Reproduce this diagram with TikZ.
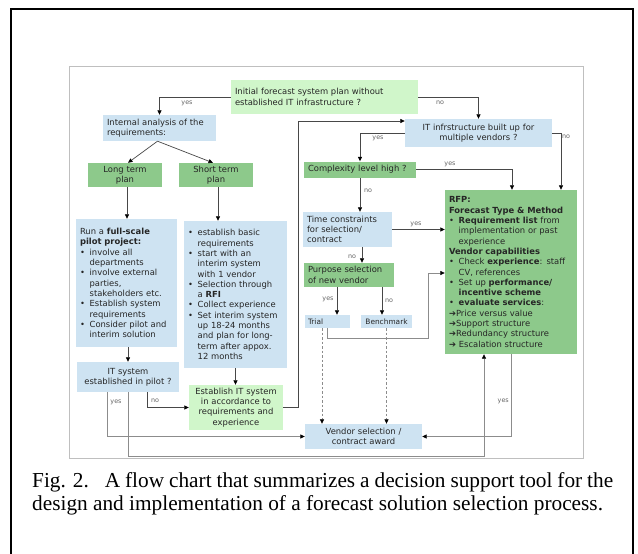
\documentclass[tikz,border=0pt]{standalone}
\usepackage{fontspec}
\setmainfont{Liberation Serif}
\newfontfamily\vf{DejaVu Sans}
\usetikzlibrary{arrows.meta}
\definecolor{lblue}{RGB}{206,227,242}
\definecolor{mgreen}{RGB}{141,201,139}
\definecolor{lgreen}{RGB}{208,246,202}
\newcommand{\bu}{\makebox[1.15em][l]{\textbullet}}
\newcommand{\ii}{\makebox[1.15em]{}}
\newcommand{\rar}{\textbf{➔}}
\begin{document}
\begin{tikzpicture}[x=1pt,y=-1pt,
  bx/.style={inner xsep=4pt, inner ysep=0pt, font=\vf\fontsize{8.4}{10.3}\selectfont, text=black!85},
  sbx/.style={inner xsep=3pt, inner ysep=0pt, font=\vf\fontsize{7.4}{9}\selectfont, text=black!85},
  lbl/.style={font=\vf\fontsize{6.4}{7}\selectfont, text=black!60, inner sep=0pt},
  ln/.style={draw=black!72, line width=0.7pt, -{Triangle[length=4.5pt,width=4pt,color=black]}},
  lnl/.style={draw=black!45, line width=0.7pt, -{Triangle[length=4.5pt,width=4pt,color=black]}},
  lnd/.style={draw=black!45, line width=0.7pt, dash pattern=on 2.5pt off 2pt, -{Triangle[length=4.5pt,width=4pt,color=black]}},
  captxt/.style={font=\fontsize{21.3}{23}\selectfont, inner sep=0pt, anchor=base west}
]
\useasboundingbox (0,0) rectangle (638,554);
\fill[white] (0,0) rectangle (638,554);
% frames
\draw[line width=1.6pt] (11,570) -- (11,9) -- (633,9) -- (633,570);
\draw[black!25, line width=0.8pt] (69,66) rectangle (583,458);

% boxes
\node[bx, fill=lgreen, minimum width=187pt, minimum height=34pt, text width=179pt, align=left] (init) at (324.5,97)
  {Initial forecast system plan without\\established IT infrastructure ?};
\node[bx, fill=lblue, minimum width=113pt, minimum height=26pt, text width=105pt, align=left] (ana) at (159.5,128)
  {Internal analysis of the\\requirements:};
\node[bx, fill=mgreen, minimum width=74pt, minimum height=24pt, text width=66pt, align=center] (long) at (125,175)
  {Long term\\plan};
\node[bx, fill=mgreen, minimum width=74pt, minimum height=24pt, text width=66pt, align=center] (short) at (216,175)
  {Short term\\plan};
\node[bx, fill=lblue, minimum width=101pt, minimum height=128pt, text width=93pt, align=left] (run) at (126.5,283)
  {Run a \textbf{full-scale}\\
   \textbf{pilot project:}\\
   \bu involve all\\
   \ii departments\\
   \bu involve external\\
   \ii parties,\\
   \ii stakeholders etc.\\
   \bu Establish system\\
   \ii requirements\\
   \bu Consider pilot and\\
   \ii interim solution};
\node[bx, fill=lblue, minimum width=103pt, minimum height=147pt, text width=95pt, align=left] (sdet) at (235.5,294.5)
  {\bu establish basic\\
   \ii requirements\\
   \bu start with an\\
   \ii interim system\\
   \ii with 1 vendor\\
   \bu Selection through\\
   \ii a \textbf{RFI}\\
   \bu Collect experience\\
   \bu Set interim system\\
   \ii up 18-24 months\\
   \ii and plan for long-\\
   \ii term after appox.\\
   \ii 12 months};
\node[bx, fill=lblue, minimum width=102pt, minimum height=30pt, text width=94pt, align=center] (itsys) at (128,377)
  {IT system\\established in pilot ?};
\node[bx, fill=lgreen, minimum width=94pt, minimum height=45pt, text width=88pt, inner xsep=3pt, align=center] (estab) at (236,407.5)
  {Establish IT system\\in accordance to\\requirements and\\experience};
\node[bx, fill=lblue, minimum width=147pt, minimum height=28pt, text width=139pt, align=center] (itinfra) at (478.5,133)
  {IT infrstructure built up for\\multiple vendors ?};
\node[bx, fill=mgreen, minimum width=112pt, minimum height=16pt, text width=104pt, align=left] (cplx) at (360,169.5)
  {Complexity level high ?};
\node[bx, fill=lblue, minimum width=89pt, minimum height=35pt, text width=81pt, align=left] (time) at (347.5,229.5)
  {Time constraints\\for selection/\\contract};
\node[bx, fill=mgreen, minimum width=90pt, minimum height=24pt, text width=82pt, align=left] (purp) at (349,275)
  {Purpose selection\\of new vendor};
\node[sbx, fill=lblue, minimum width=45pt, minimum height=13pt, text width=39pt, align=left] (trial) at (327.5,321.5)
  {Trial};
\node[sbx, fill=lblue, minimum width=51pt, minimum height=13pt, text width=45pt, align=center] (bench) at (386.5,321.5)
  {Benchmark};
\node[bx, fill=mgreen, minimum width=132pt, minimum height=164pt, text width=124pt, align=left] (rfp) at (511,272)
  {\textbf{RFP:}\\
   \textbf{Forecast Type \& Method}\\
   \bu\textbf{Requirement list} from\\
   \ii implementation or past\\
   \ii experience\\
   \textbf{Vendor capabilities}\\
   \bu Check \textbf{experience}: staff\\
   \ii CV, references\\
   \bu Set up \textbf{performance/}\\
   \ii\textbf{incentive scheme}\\
   \bu\textbf{evaluate services}:\\
   \rar Price versus value\\
   \rar Support structure\\
   \rar Redundancy structure\\
   \rar\ Escalation structure};
\node[bx, fill=lblue, minimum width=117pt, minimum height=25pt, text width=109pt, align=center] (vendor) at (363.5,436.5)
  {Vendor selection /\\contract award};

% helper coordinates
\coordinate (bot) at (0,456);
\coordinate (lft) at (298,121);
\coordinate (tr1) at (428,338);
\coordinate (tr2) at (428,273);

% connectors
\draw[ln] (init.west) -| (ana.north);
\node[lbl] (l1) at (187,103) {yes};
\draw[ln] (init.east) -| (itinfra.north);
\node[lbl] (l2) at (440,103) {no};
\draw[ln] ([xshift=-2pt]ana.south) -- ([xshift=3pt]long.north);
\draw[ln] ([xshift=-2pt]ana.south) -- ([xshift=-3pt]short.north);
\draw[ln] ([xshift=2pt]long.south) -- ([xshift=2pt]long.south |- run.north);
\draw[ln] ([xshift=2pt]short.south) -- ([xshift=2pt]short.south |- sdet.north);
\draw[ln] (itsys.north |- run.south) -- (itsys.north);
\draw[ln] (sdet.south) -- (sdet.south |- estab.north);
\draw[ln] ([xshift=19pt]itsys.south) |- (estab.west);
\node[lbl] (l3) at (155,401) {no};
\draw[lnl] ([xshift=-21pt]itsys.south) |- (vendor.west);
\node[lbl] (l4) at (116,402) {yes};
\draw[lnl] (itsys.south) -- (itsys.south |- bot) -| ([xshift=-27pt]rfp.south);
\draw[ln] (estab.east) -| (lft) -- (itinfra.west |- lft);
\draw[ln] (itinfra.west) -| (cplx.north);
\node[lbl] (l5) at (378,138) {yes};
\draw[ln] (itinfra.east) -| ([xshift=50pt]rfp.north);
\node[lbl] (l6) at (566,137) {no};
\draw[ln] (cplx.east) -| ([xshift=1pt]rfp.north);
\node[lbl] (l7) at (450,164) {yes};
\draw[ln] (cplx.south) -- (cplx.south |- time.north);
\node[lbl] (l8) at (368,191) {no};
\draw[ln] (time.east) -- (rfp.west |- time.east);
\node[lbl] (l9) at (416,224) {yes};
\draw[ln] ([xshift=14.5pt]time.south) -- ([xshift=14.5pt]time.south |- purp.north);
\node[lbl] (l10) at (352,257) {no};
\draw[ln] ([xshift=9.5pt]trial.north |- purp.south) -- ([xshift=9.5pt]trial.north);
\node[lbl] (l11) at (328,299) {yes};
\draw[ln] ([xshift=-4.5pt]bench.north |- purp.south) -- ([xshift=-4.5pt]bench.north);
\node[lbl] (l12) at (389,301) {no};
\draw[lnl] (trial.south) |- (tr1) -- (tr2) -- (rfp.west |- tr2);
\draw[lnd] ([xshift=-5.5pt]trial.south) -- ([xshift=-5.5pt]trial.south |- vendor.north);
\draw[lnd] (bench.south) -- (bench.south |- vendor.north);
\draw[lnl] (rfp.south) |- (vendor.east);
\node[lbl, anchor=east] (l13) at (509,401) {yes};

% caption
\node[captxt] (c1) at (32,487) {\makebox[581pt][s]{Fig. 2.\hspace{0.75em}A flow chart that summarizes a decision support tool for the}};
\node[captxt] (c2) at (32,510) {design and implementation of a forecast solution selection process.};
\end{tikzpicture}
\end{document}
